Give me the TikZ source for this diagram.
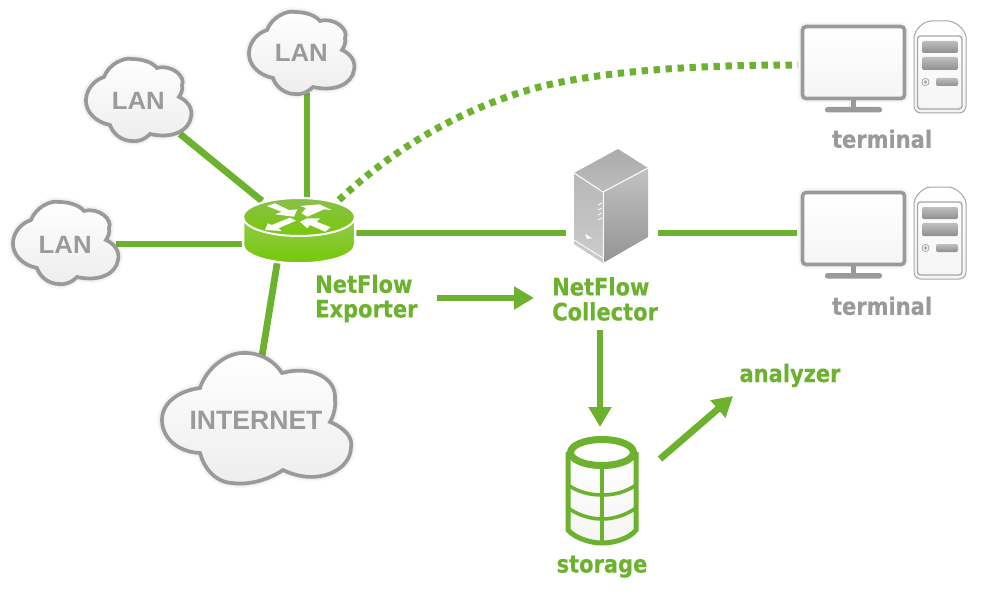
\documentclass[tikz,border=0pt]{standalone}
\usepackage{fontspec}
\setmainfont{Liberation Sans}
\newfontfamily\labfont[FakeStretch=0.875,BoldFeatures={FakeBold=0.25}]{DejaVu Sans}
\newfontfamily\lanfont[FakeStretch=1.03]{Liberation Sans}
\usetikzlibrary{arrows.meta}
\definecolor{lnk}{HTML}{6CB22F}
\definecolor{gry}{HTML}{9A9A9A}
\definecolor{rtop}{HTML}{8ABF48}
\definecolor{rbot}{HTML}{78C80A}
\definecolor{btop}{HTML}{94C952}
\definecolor{bbot}{HTML}{76C806}
\newcommand{\sz}[1]{\fontsize{#1}{#1}\selectfont}
\tikzset{
  x=1pt,y=-1pt,
  link/.style={draw=lnk,line width=6.8pt},
  dotlink/.style={draw=lnk,line width=7pt,dash pattern=on 6.3pt off 5.7pt},
  flow/.style={draw=lnk,line width=6.8pt,-{Triangle[length=20pt,width=22pt]},shorten >=0pt},
  cloudtext/.style={text=gry,font=\lanfont\bfseries\sz{25},inner sep=0pt,anchor=base},
  greentext/.style={text=lnk,font=\labfont\bfseries\sz{24},inner sep=0pt,align=left},
  greytext/.style={text=gry,font=\labfont\bfseries\sz{24},inner sep=0pt,anchor=base},
  cloudline/.style={draw=gry,line width=3.7pt,top color=white,bottom color=black!7},
  halo/.style={draw=black,line width=#1,opacity=.03,line join=round},
  greybar/.style={top color=black!25,bottom color=black!44,draw=none},
  termline/.style={draw=gry,line width=3.6pt},
  whitearrow/.style={fill=white,draw=none},
  store/.style={draw=lnk,line width=5pt},
  pics/lancloud/.style={code={
    \def\lanpath{(267,30) .. controls (272,17) and (287,10) .. (295,12)
      .. controls (305,12) and (315,15) .. (320,21)
      .. controls (335,17) and (349,30) .. (345,38)
      .. controls (346,43) and (344,47) .. (342,50)
      .. controls (351,54) and (356,62) .. (354,70)
      .. controls (352,84) and (335,92) .. (313,87)
      .. controls (307,93) and (300,95) .. (295,94)
      .. controls (285,94) and (276,87) .. (273,78)
      .. controls (258,75) and (248,64) .. (249,52)
      .. controls (250,41) and (258,33) .. (267,30) -- cycle}
    \path[halo=9pt] \lanpath;
    \path[halo=6pt] \lanpath;
    \path[cloudline] \lanpath;
  }},
  pics/terminal/.style={code={
    % monitor
    \path[halo=8pt,rounded corners=4pt] (802,26) rectangle (905,99);
    \draw[termline,rounded corners=3.5pt,top color=white,bottom color=black!4] (802.5,26.5) rectangle (904.5,98.5);
    \fill[gry] (851,99) rectangle (856,108);
    \fill[gry,rounded corners=2.5pt] (825,107) rectangle (882,112.5);
    % tower
    \path[draw=black!35,line width=1pt,top color=white,bottom color=black!4]
      (914,37) .. controls (915,29) and (924,21) .. (931,21) -- (948,21)
      .. controls (955,21) and (965,29) .. (966,37) -- (966,106)
      .. controls (966,110) and (963,113) .. (959,113) -- (921,113)
      .. controls (917,113) and (914,110) .. (914,106) -- cycle;
    \draw[draw=black!35,line width=1.3pt,rounded corners=3pt] (917.5,36) rectangle (962,109);
    \path[greybar,rounded corners=2pt] (922,41) rectangle (958,53);
    \path[greybar,rounded corners=2pt] (922,57) rectangle (958,70);
    \path[greybar,rounded corners=2pt] (936,78) rectangle (958,86);
    \draw[black!35,line width=.8pt] (925.5,82) circle[radius=3.6];
    \fill[black!35] (925.5,82) circle[radius=1.8];
  }}
}
\begin{document}
\begin{tikzpicture}
\useasboundingbox (0,0) rectangle (1001,599);
\fill[white] (0,0) rectangle (1001,599);

% anchor points of the connectors
\coordinate (lanTopEnd) at (307,93);
\coordinate (routerTop) at (307,205);
\coordinate (lanMidEnd) at (180,134);
\coordinate (routerMid) at (262,201);
\coordinate (lanLeftEnd) at (116,244);
\coordinate (routerLeft) at (245,244);
\coordinate (inetEnd) at (262,356);
\coordinate (routerDown) at (278,258);
\coordinate (routerRight) at (353,233);
\coordinate (serverLeft) at (566,233);
\coordinate (serverRight) at (658,233);
\coordinate (termBLeft) at (797,233);
\coordinate (routerDot) at (339,200);
\coordinate (dotBend) at (543,86);
\coordinate (termALeft) at (798,65);
\coordinate (exporterOut) at (437,298);
\coordinate (collectorIn) at (534,298);
\coordinate (collectorOut) at (600,330);
\coordinate (storageIn) at (600,427);
\coordinate (storageOut) at (660,459);
\coordinate (analyzerIn) at (733,396);

% connectors
\draw[link] (lanTopEnd) -- (routerTop);
\draw[link] (lanMidEnd) -- (routerMid);
\draw[link] (lanLeftEnd) -- (routerLeft);
\draw[link] (inetEnd) -- (routerDown);
\draw[link] (routerRight) -- (serverLeft);
\draw[link] (serverRight) -- (termBLeft);
\draw[dotlink] (routerDot) .. controls (400,143) and (470,105) .. (dotBend)
  .. controls (620,68) and (720,65) .. (termALeft);

% clouds
\pic at (0,0) {lancloud};
\pic at (-163,47) {lancloud};
\pic at (-236,190) {lancloud};
\def\inetpath{(200,388) .. controls (207,367) and (228,352) .. (245,353)
  .. controls (262,353) and (275,362) .. (282,373)
  .. controls (312,365) and (337,378) .. (335,400)
  .. controls (336,408) and (333,417) .. (330,422)
  .. controls (345,428) and (353,438) .. (351,447)
  .. controls (351,470) and (318,487) .. (283,470)
  .. controls (265,482) and (245,485) .. (232,483)
  .. controls (215,482) and (204,468) .. (200,453)
  .. controls (178,452) and (162,438) .. (162,420)
  .. controls (162,403) and (178,391) .. (200,388) -- cycle}
\path[halo=9pt] \inetpath;
\path[halo=6pt] \inetpath;
\path[cloudline] \inetpath;

\node[cloudtext] (lanA) at (301.3,61.7) {LAN};
\node[cloudtext] (lanB) at (138.3,110) {LAN};
\node[cloudtext] (lanC) at (65.2,253.3) {LAN};
\node[cloudtext,font=\bfseries\sz{26.6}] (inet) at (256,429.3) {INTERNET};

% router
\path[draw=white,line width=2.5pt,top color=btop,bottom color=bbot]
  (243,217) -- (243,245) arc[start angle=180,end angle=0,x radius=56,y radius=18.5] -- (355,217) -- cycle;
\path[draw=white,line width=2pt,top color=rtop,bottom color=rbot]
  (299,217) ellipse[x radius=56,y radius=19];
\fill[whitearrow] (266.7,206) -- (275,203.3) -- (289,210) -- (297.3,209.3) -- (294,216.7) -- (275,214.3) -- (281.7,211.7) -- cycle;
\fill[whitearrow] (301.7,213.3) -- (307.3,216.7) -- (324,209.3) -- (331.7,210) -- (319.3,204.3) -- (300,206) -- (306,208) -- cycle;
\fill[whitearrow] (265,230) -- (267.7,223.3) -- (271.7,225) -- (290,217.7) -- (296,220.7) -- (278.3,228.3) -- (281.7,231) -- cycle;
\fill[whitearrow] (300,221.7) -- (307.3,218.3) -- (320,218.3) -- (316.7,221.7) -- (330.7,227.3) -- (325,231.7) -- (310,225) -- (307.3,228.3) -- cycle;

% server
\fill[white] (618,147) -- (650,168) -- (650,238) -- (603,265) -- (572,245) -- (572,172) -- cycle;
\path[top color=black!33,bottom color=black!26] (618,149) -- (648,168) -- (603,192) -- (574,173) -- cycle;
\path[top color=black!28,bottom color=black!20] (574,173) -- (603,192) -- (603,263) -- (574,244) -- cycle;
\path[top color=black!24,bottom color=black!42] (603,192) -- (648,168) -- (648,237) -- (603,263) -- cycle;
\draw[white,line width=1pt] (574,173) -- (603,192) -- (648,168);
\draw[white,line width=1pt] (603,192) -- (603,263);
\draw[white,line width=.8pt] (574,240) -- (603,258);
\foreach \yy in {205,210,215,220} \draw[white,line width=.8pt] (598,\yy) -- (602,\yy-2);
\fill[white] (585,234) -- (592,238) -- (587,239) -- cycle;

% terminals
\pic at (0,0) {terminal};
\pic at (0,166) {terminal};
\node[greytext] (termA) at (882,147.8) {terminal};
\node[greytext] (termB) at (882,314.8) {terminal};

% storage
\path[top color=white,bottom color=black!4] (568,452) -- (568,530) .. controls (575,538) and (590,543) .. (602,543) .. controls (615,543) and (630,538) .. (636,530) -- (636,452) -- cycle;
\draw[store] (568,452) -- (568,530) .. controls (575,538) and (590,543) .. (602,543) .. controls (615,543) and (630,538) .. (636,530) -- (636,452);
\draw[store,line width=3.6pt] (602,465) -- (602,543);
\draw[store,line width=3.6pt] (568,485) .. controls (578,492) and (590,495) .. (602,495) .. controls (614,495) and (626,492) .. (636,485);
\draw[store,line width=3.6pt] (568,508) .. controls (578,515) and (590,519) .. (602,519) .. controls (614,519) and (626,515) .. (636,508);
\draw[draw=lnk,line width=7pt,fill=white] (602,452.5) ellipse[x radius=31.5,y radius=13];

% flow arrows
\draw[flow] (exporterOut) -- (collectorIn);
\draw[flow] (collectorOut) -- (storageIn);
\draw[flow] (storageOut) -- (analyzerIn);

% labels
\node[greentext,anchor=west] (exporter) at (315,298.5) {NetFlow\\[0.6pt]Exporter};
\node[greentext,anchor=west] (collector) at (552,299) {NetFlow\\[1pt]Collector};
\node[greentext,anchor=base] (storage) at (602,572.5) {storage};
\node[greentext,anchor=base] (analyzer) at (790,382) {analyzer};
\end{tikzpicture}
\end{document}
